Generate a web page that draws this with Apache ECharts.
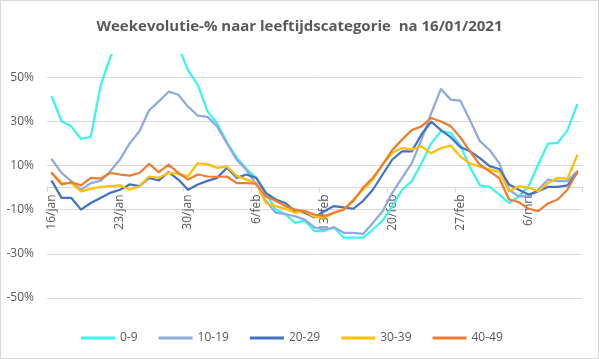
<!DOCTYPE html>
<html>
<head>
<meta charset="utf-8">
<script src="https://cdn.jsdelivr.net/npm/echarts@6/dist/echarts.min.js"></script>
<style>
html,body{margin:0;padding:0;background:#fff;}
#c{width:599px;height:359px;}
</style>
</head>
<body>
<div id="c"></div>
<script>
const categories = ["16/jan","17/jan","18/jan","19/jan","20/jan","21/jan","22/jan","23/jan","24/jan","25/jan","26/jan","27/jan","28/jan","29/jan","30/jan","31/jan","1/feb","2/feb","3/feb","4/feb","5/feb","6/feb","7/feb","8/feb","9/feb","10/feb","11/feb","12/feb","13/feb","14/feb","15/feb","16/feb","17/feb","18/feb","19/feb","20/feb","21/feb","22/feb","23/feb","24/feb","25/feb","26/feb","27/feb","28/feb","1/mrt","2/mrt","3/mrt","4/mrt","5/mrt","6/mrt","7/mrt","8/mrt","9/mrt","10/mrt","11/mrt"];

const s0_9   = [41,30,27.7,22,23,46,59,68,75,80,82,78,72,64,53,46.5,34.5,29,20.5,13.5,8.5,4.4,-2.4,-10,-12,-16,-15,-19.7,-19.7,-18,-22.7,-22.7,-22.7,-19,-15,-8.4,-1,2.9,11,20,25.5,24.7,19,9,1,0.3,-3.2,-7,-4,0.6,10.4,19.9,20.2,26,37.5];
const s10_19 = [12.7,6.6,2.9,-1,2,3,7.4,12.7,20,25.5,35,39,43.4,42,36.6,32.6,32,27.6,20,12.6,8,1.4,-6,-11.4,-12,-13,-14.5,-18,-19,-18,-20.5,-20.5,-21,-16,-10.7,-2.4,4.4,11,21.7,33.7,44.6,39.8,39.3,30.3,21,17,11,-1,-4,-4,-1,3.6,2.9,2.9,7.4];
const s20_29 = [2.9,-4.7,-4.7,-10,-7,-4.7,-2.4,-1,1.4,0.6,4.4,3.2,7,3.6,-1,1.4,3,4.4,9,4.4,5.9,4.4,-2.4,-5.4,-7,-10.7,-11.4,-13.5,-10.7,-8.4,-9,-9.6,-6,-1,5.9,12.7,16.4,16.4,24,29.8,26,22.8,18.3,16.4,13.3,9.7,8.4,1.4,-1,-3.2,-1.7,0.3,0.3,1,6.6];
const s30_39 = [6.6,2,2,-1.7,-0.6,0.3,0.6,1,-1,0.6,5,4.4,6.6,6.2,5.2,11,10.5,8.9,9.5,5.3,3.6,2,-7,-8.4,-9.6,-11.4,-10.7,-13.3,-13.7,-11.4,-10,-5.4,-1,3.6,10.4,15.7,17.9,17.3,18.6,15.5,17.9,19,14,10.9,9.5,8.2,7.1,-1.7,0.6,0,-1.7,2,4.4,4,14.5];
const s40_49 = [6.6,1.4,2.4,1,4.4,4,6.6,5.9,5.4,6.6,10.7,7,10.4,6.6,3.6,5.9,5,4.8,5,2,2,1.8,-4,-6,-8.4,-10,-10.7,-12.2,-13,-11.4,-10,-6,0,4.4,10.4,17,21.7,26,27.7,31.5,29.9,27.8,22.7,16.3,10.3,7.3,4.2,-5.4,-6.6,-9.6,-10.7,-7.2,-5.4,-1,7];

const seriesNames = ["0-9","10-19","20-29","30-39","40-49"];
const seriesColors = ["#3CF5F0","#8FAADC","#4472C4","#FFC000","#ED7D31"];
const seriesData = [s0_9, s10_19, s20_29, s30_39, s40_49];

const FONT = "Open Sans";
const chart = echarts.init(document.getElementById('c'), null, {renderer:'canvas'});
chart.setOption({
  animation: false,
  backgroundColor: '#fff',
  color: seriesColors,
  title: {
    text: 'Weekevolutie-% naar leeftijdscategorie  na 16/01/2021',
    left: 'center', top: 14,
    textStyle: {fontFamily: FONT, fontSize: 15, fontWeight: 'bold', color: '#595959'}
  },
  graphic: [{
    type: 'rect', shape: {x: 0.5, y: 0.5, width: 598, height: 358},
    style: {fill: 'none', stroke: '#d9d9d9', lineWidth: 1}, silent: true, z: -1
  }],
  legend: {
    top: 327, left: 76,
    itemWidth: 34, itemHeight: 3, itemGap: 21,
    icon: 'rect',
    textStyle: {fontFamily: FONT, fontSize: 12, color: '#595959'},
    data: seriesNames
  },
  grid: {left: 47, right: 17, top: 55, bottom: 61, containLabel: false},
  xAxis: {
    type: 'category',
    data: categories,
    boundaryGap: true,
    position: 'bottom',
    offset: -110.5,
    axisLine: {show: true, onZero: false, lineStyle: {color: '#d9d9d9', width: 1}},
    axisTick: {show: true, interval: 6, length: 5, lineStyle: {color: '#d9d9d9'}},
    axisLabel: {interval: 6, rotate: 90, margin: 7, fontFamily: FONT, fontSize: 12, color: '#595959'},
    splitLine: {show: false}
  },
  yAxis: {
    type: 'value',
    min: -50, max: 60, interval: 20,
    axisLine: {show: false},
    axisTick: {show: false},
    axisLabel: {
      showMaxLabel: false, margin: 13,
      fontFamily: FONT, fontSize: 12, color: '#595959',
      formatter: v => v + '%'
    },
    splitLine: {show: true, showMaxLine: false, lineStyle: {color: '#d9d9d9', width: 1}}
  },
  series: seriesNames.map((n, i) => ({
    name: n, type: 'line', data: seriesData[i],
    showSymbol: false, symbol: 'none', smooth: false, clip: true,
    lineStyle: {width: 2.25, color: seriesColors[i], join: 'round', cap: 'round'},
    itemStyle: {color: seriesColors[i]},
    emphasis: {disabled: true}
  }))
});
</script>
</body>
</html>
